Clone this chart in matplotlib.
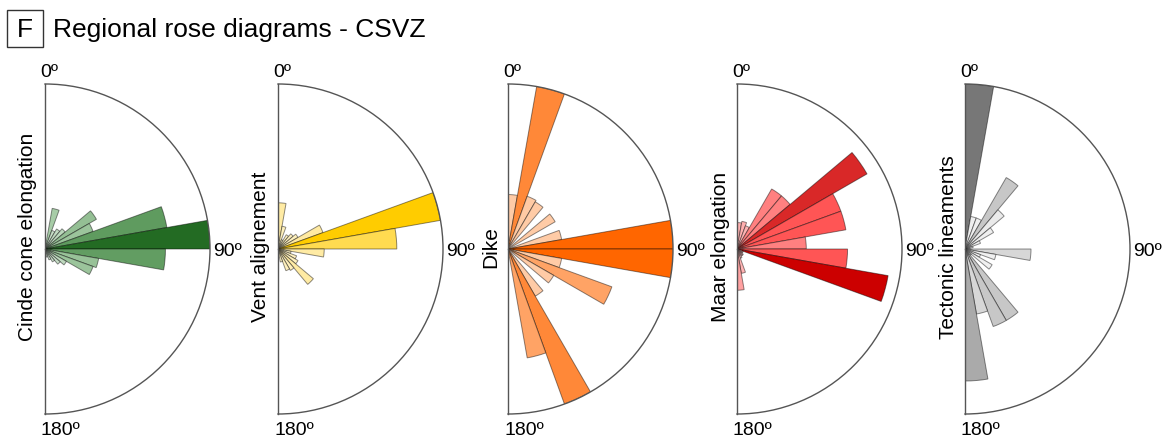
import numpy as np
import matplotlib
matplotlib.use("Agg")
import matplotlib.pyplot as plt
from matplotlib.colors import LinearSegmentedColormap
from matplotlib.patches import Rectangle

plt.rcParams["font.family"] = ["Liberation Sans", "DejaVu Sans"]

# 10-degree azimuth classes from 0º to 180º
bin_edges = np.arange(0, 181, 10)

labels = ["Cinde cone elongation", "Vent alignement", "Dike",
          "Maar elongation", "Tectonic lineaments"]

# relative frequency per class (0-10, 10-20, ..., 170-180)
cinder_cone = [0.03, 0.25, 0.12, 0.14, 0.16, 0.36, 0.31, 0.75, 1.00,
               0.73, 0.33, 0.31, 0.15, 0.12, 0.09, 0.07, 0.05, 0.03]
vent = [0.28, 0.14, 0.06, 0.10, 0.12, 0.14, 0.29, 1.00, 0.72,
        0.28, 0.08, 0.12, 0.14, 0.28, 0.15, 0.14, 0.08, 0.03]
dike = [0.33, 1.00, 0.34, 0.33, 0.00, 0.33, 0.00, 0.33, 1.30,
        1.30, 0.33, 0.67, 0.32, 0.00, 0.33, 1.00, 0.67, 0.00]
maar = [0.16, 0.17, 0.15, 0.42, 0.42, 0.91, 0.67, 0.67, 0.42,
        0.67, 0.93, 0.04, 0.04, 0.05, 0.05, 0.06, 0.15, 0.25]
tectonic = [1.00, 0.20, 0.20, 0.50, 0.31, 0.20, 0.10, 0.05, 0.03,
            0.40, 0.19, 0.10, 0.19, 0.05, 0.50, 0.50, 0.40, 0.80]

series = [cinder_cone, vent, dike, maar, tectonic]

# colour ramps, light for rare classes to saturated for the dominant one
ramps = [
    [(0, "#e2eee2"), (0.3, "#9cc59c"), (0.75, "#5f9b5f"), (0.9, "#4a8a4a"), (1, "#236b23")],
    [(0, "#fff6d5"), (0.3, "#ffeaa0"), (0.72, "#ffdb50"), (1, "#ffcc00")],
    [(0, "#ffe2cc"), (0.25, "#ffcba6"), (0.52, "#ffa263"), (0.77, "#ff8838"), (1, "#ff6600")],
    [(0, "#ffd2d2"), (0.18, "#ffb0b0"), (0.45, "#ff8080"), (0.72, "#ff5555"),
     (0.975, "#dd3333"), (1, "#cc0000")],
    [(0, "#f6f6f6"), (0.3, "#ececec"), (0.45, "#cccccc"), (0.8, "#aaaaaa"), (1, "#777777")],
]

W, H = 1162, 438
fig = plt.figure(figsize=(W / 100, H / 100), dpi=100)


def fx(px):
    return px / W


def fy(py_top):
    return 1 - py_top / H


R = 165            # radius in px
cy = 249           # centre row (px from top)
centres = [45, 278, 508, 737, 965]
label_y = [237, 247, 247, 247, 247]

theta_c = np.deg2rad(bin_edges[:-1] + 5)
width = np.deg2rad(10)

for vals, name, ramp, cx, ly in zip(series, labels, ramps, centres, label_y):
    # the half-disc is centred horizontally inside a square polar box
    ax = fig.add_axes([fx(cx - R / 2), fy(cy + R), 2 * R / W, 2 * R / H],
                      projection="polar")
    ax.set_theta_zero_location("N")
    ax.set_theta_direction(-1)
    ax.set_thetamin(0)
    ax.set_thetamax(180)
    ax.set_rlim(0, 1)
    ax.grid(False)
    ax.set_xticks([])
    ax.set_yticks([])
    for sp in ax.spines.values():
        sp.set_edgecolor("#555555")
        sp.set_linewidth(1.0)

    cmap = LinearSegmentedColormap.from_list("ramp", ramp)
    v = np.asarray(vals, dtype=float)
    colors = cmap(v / v.max())
    ax.bar(theta_c, v, width=width, bottom=0, color=colors,
           edgecolor=(0, 0, 0, 0.45), linewidth=0.7)

    fig.text(fx(cx - 5), fy(cy - R - 7), "0º", ha="left", va="baseline", fontsize=14)
    fig.text(fx(cx - 4), fy(cy + R + 21), "180º", ha="left", va="baseline", fontsize=14)
    fig.text(fx(cx + R + 3), fy(cy), "90º", ha="left", va="center_baseline", fontsize=14)
    fig.text(fx(cx - 17), fy(ly), name, rotation=90, ha="center", va="center",
             fontsize=15)

# panel tag and title
fig.add_artist(Rectangle((fx(7), fy(47)), 36 / W, 37 / H,
                         transform=fig.transFigure, facecolor="white",
                         edgecolor="#333333", linewidth=1.0))
fig.text(fx(25), fy(37), "F", ha="center", va="baseline", fontsize=19)
fig.text(fx(53), fy(37), "Regional rose diagrams - CSVZ",
         ha="left", va="baseline", fontsize=19)

fig.savefig("out.png", dpi=100)
